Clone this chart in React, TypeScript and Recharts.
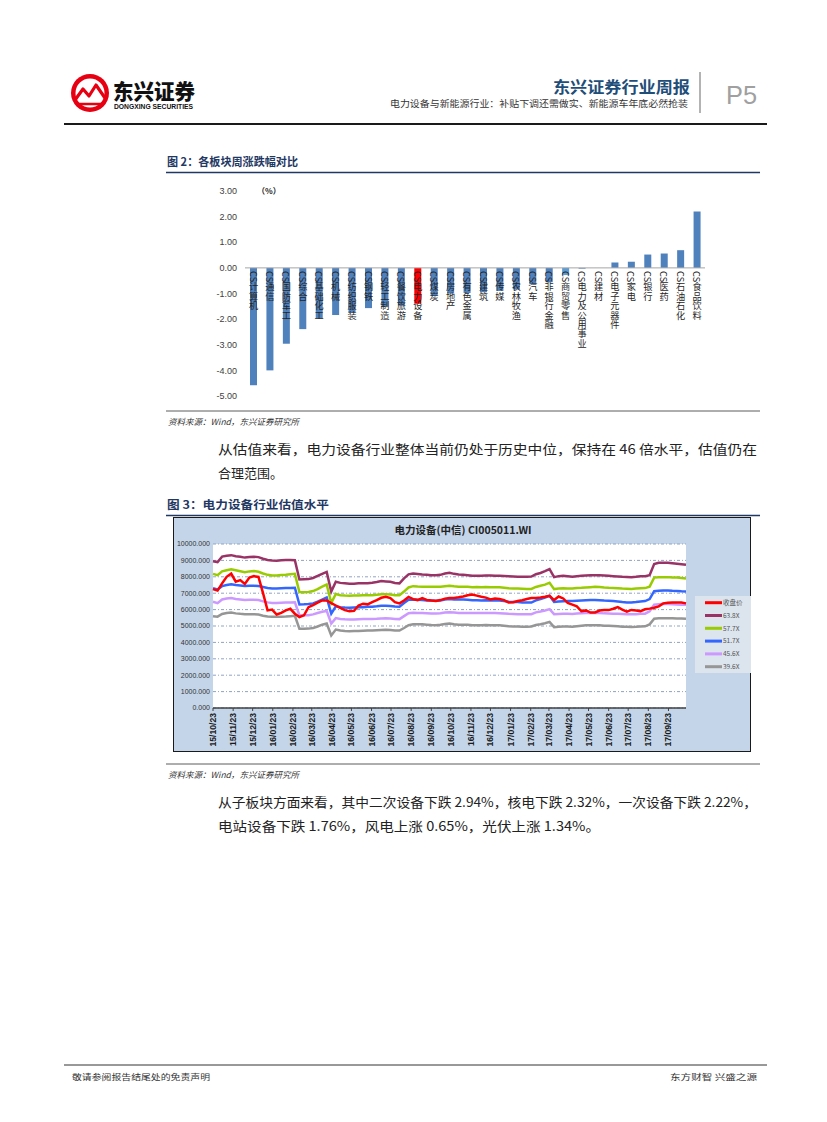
import React from 'react';
import {
  BarChart, Bar, XAxis, YAxis, ReferenceLine, LineChart, Line, CartesianGrid,
} from 'recharts';

const CJK = '"Noto Sans CJK SC", "Noto Sans", sans-serif';
const LAT = '"Liberation Sans", Arial, sans-serif';

// ---------- Figure 2 data ----------
const sectors = ['计算机', '通信', '国防军工', '综合', '基础化工', '机械', '纺织服装', '钢铁', '轻工制造', '餐饮旅游', '电力设备', '煤炭', '房地产', '有色金属', '建筑', '传媒', '农林牧渔', '汽车', '非银行金融', '商贸零售', '电力及公用事业', '建材', '电子元器件', '家电', '银行', '医药', '石油石化', '食品饮料'];
const weeklyChange = [-4.58, -4.0, -2.96, -2.39, -1.97, -1.84, -1.75, -1.57, -1.52, -1.47, -1.4, -1.1, -1.0, -0.98, -0.95, -0.9, -0.84, -0.64, -0.56, -0.28, -0.03, 0.0, 0.21, 0.24, 0.52, 0.56, 0.69, 2.2];
const barTicks = [3, 2, 1, 0, -1, -2, -3, -4, -5];
const barRows = sectors.map((name, i) => ({ name, value: weeklyChange[i] }));

// ---------- Figure 3 data ----------
const weekDates = [
  '2015-10-23', '2015-10-30', '2015-11-06', '2015-11-13', '2015-11-20', '2015-11-27', '2015-12-04', '2015-12-11', '2015-12-18', '2015-12-25',
  '2016-01-01', '2016-01-08', '2016-01-15', '2016-01-22', '2016-01-29', '2016-02-05', '2016-02-12', '2016-02-19', '2016-02-26', '2016-03-04',
  '2016-03-11', '2016-03-18', '2016-03-25', '2016-04-01', '2016-04-08', '2016-04-15', '2016-04-22', '2016-04-29', '2016-05-06', '2016-05-13',
  '2016-05-20', '2016-05-27', '2016-06-03', '2016-06-10', '2016-06-17', '2016-06-24', '2016-07-01', '2016-07-08', '2016-07-15', '2016-07-22',
  '2016-07-29', '2016-08-05', '2016-08-12', '2016-08-19', '2016-08-26', '2016-09-02', '2016-09-09', '2016-09-16', '2016-09-23', '2016-09-30',
  '2016-10-07', '2016-10-14', '2016-10-21', '2016-10-28', '2016-11-04', '2016-11-11', '2016-11-18', '2016-11-25', '2016-12-02', '2016-12-09',
  '2016-12-16', '2016-12-23', '2016-12-30', '2017-01-06', '2017-01-13', '2017-01-20', '2017-01-27', '2017-02-03', '2017-02-10', '2017-02-17',
  '2017-02-24', '2017-03-03', '2017-03-10', '2017-03-17', '2017-03-24', '2017-03-31', '2017-04-07', '2017-04-14', '2017-04-21', '2017-04-28',
  '2017-05-05', '2017-05-12', '2017-05-19', '2017-05-26', '2017-06-02', '2017-06-09', '2017-06-16', '2017-06-23', '2017-06-30', '2017-07-07',
  '2017-07-14', '2017-07-21', '2017-07-28', '2017-08-04', '2017-08-11', '2017-08-18', '2017-08-25', '2017-09-01', '2017-09-08', '2017-09-15',
  '2017-09-22', '2017-09-29', '2017-10-06', '2017-10-13', '2017-10-20',
];
const closePrice = [
  7250, 7160, 7600, 8000, 8200, 7700, 7800, 7560, 7950, 8040,
  7990, 7000, 5950, 6000, 5700, 5800, 5950, 6050, 5750, 5550,
  5650, 6150, 6270, 6420, 6560, 6560, 6400, 6250, 6100, 5970,
  5900, 5930, 6250, 6360, 6320, 6450, 6580, 6720, 6780, 6700,
  6450, 6380, 6550, 6770, 6640, 6580, 6700, 6590, 6550, 6520,
  6580, 6670, 6700, 6710, 6750, 6800, 6870, 6920, 6850, 6780,
  6730, 6620, 6670, 6650, 6580, 6430, 6450, 6520, 6570, 6650,
  6700, 6710, 6740, 6780, 6840, 6580, 6800, 6680, 6400, 6300,
  6200, 5900, 5950, 5820, 5830, 5940, 5970, 5970, 6050, 6150,
  6000, 5870, 5980, 5950, 5900, 6020, 6060, 6110, 6200, 6380,
  6420, 6430, 6430, 6430, 6380,
];
const pe63 = [
  8950, 8900, 9230, 9280, 9320, 9250, 9220, 9170, 9200, 9220,
  9200, 9100, 9030, 8990, 8980, 9010, 9020, 9020, 9010, 7840,
  7850, 7860, 7930, 8050, 8180, 8300, 7100, 7700, 7630, 7600,
  7570, 7580, 7600, 7610, 7610, 7640, 7680, 7740, 7720, 7700,
  7620, 7600, 7900, 8150, 8200, 8170, 8140, 8120, 8100, 8100,
  8120, 8200, 8250, 8180, 8140, 8130, 8100, 8060, 8070, 8060,
  8080, 8080, 8070, 8060, 8050, 8040, 8020, 8000, 8000, 8000,
  8010, 8160, 8230, 8340, 8470, 7980, 8040, 8060, 8040, 8000,
  8040, 8060, 8080, 8100, 8100, 8090, 8080, 8060, 8040, 8020,
  8000, 7990, 7980, 8000, 8040, 8040, 8100, 8780, 8850, 8860,
  8850, 8820, 8790, 8760, 8730,
];
const pe57 = [
  8180, 8100, 8330, 8400, 8460, 8400, 8340, 8280, 8330, 8350,
  8310, 8200, 8120, 8080, 8080, 8110, 8130, 8160, 8180, 7070,
  7060, 7070, 7130, 7250, 7400, 7530, 6400, 6950, 6880, 6860,
  6850, 6860, 6860, 6870, 6880, 6880, 6900, 6940, 6940, 6920,
  6880, 6870, 7100, 7350, 7430, 7410, 7400, 7390, 7390, 7390,
  7400, 7430, 7450, 7420, 7400, 7390, 7390, 7370, 7380, 7370,
  7380, 7370, 7370, 7360, 7330, 7300, 7290, 7280, 7270, 7260,
  7260, 7380, 7450, 7520, 7640, 7250, 7280, 7300, 7290, 7280,
  7320, 7330, 7350, 7370, 7390, 7380, 7350, 7330, 7320, 7300,
  7280, 7270, 7260, 7280, 7300, 7310, 7400, 7950, 7970, 7980,
  7980, 7960, 7950, 7930, 7900,
];
const pe51 = [
  7300, 7230, 7430, 7500, 7550, 7500, 7470, 7440, 7450, 7450,
  7440, 7380, 7320, 7290, 7290, 7300, 7310, 7320, 7330, 6310,
  6320, 6340, 6380, 6480, 6610, 6740, 5750, 6200, 6150, 6130,
  6120, 6130, 6140, 6150, 6170, 6180, 6200, 6230, 6230, 6220,
  6190, 6180, 6400, 6600, 6620, 6600, 6580, 6560, 6550, 6540,
  6560, 6620, 6640, 6620, 6610, 6610, 6600, 6570, 6570, 6560,
  6570, 6560, 6560, 6550, 6520, 6480, 6470, 6460, 6440, 6430,
  6430, 6560, 6640, 6740, 6840, 6470, 6490, 6510, 6520, 6520,
  6540, 6560, 6570, 6580, 6590, 6570, 6550, 6540, 6530, 6500,
  6460, 6440, 6430, 6460, 6500, 6520, 6640, 7120, 7150, 7170,
  7170, 7150, 7140, 7120, 7110,
];
const pe45 = [
  6480, 6390, 6620, 6670, 6700, 6650, 6620, 6590, 6600, 6600,
  6580, 6500, 6440, 6410, 6410, 6420, 6430, 6440, 6450, 5660,
  5650, 5660, 5710, 5790, 5870, 5920, 5150, 5480, 5430, 5410,
  5400, 5400, 5410, 5420, 5420, 5430, 5440, 5460, 5470, 5460,
  5430, 5420, 5600, 5780, 5810, 5800, 5790, 5780, 5760, 5760,
  5780, 5820, 5840, 5820, 5800, 5800, 5790, 5800, 5800, 5800,
  5800, 5800, 5790, 5780, 5760, 5740, 5730, 5720, 5720, 5710,
  5720, 5830, 5880, 5950, 6030, 5720, 5730, 5740, 5740, 5730,
  5760, 5780, 5790, 5800, 5800, 5790, 5770, 5760, 5750, 5740,
  5730, 5720, 5710, 5720, 5740, 5750, 5900, 6300, 6330, 6350,
  6340, 6330, 6310, 6300, 6290,
];
const pe39 = [
  5600, 5570, 5730, 5790, 5820, 5770, 5740, 5720, 5720, 5720,
  5700, 5630, 5580, 5560, 5560, 5570, 5580, 5600, 5620, 4830,
  4830, 4840, 4880, 4970, 5080, 5150, 4420, 4780, 4720, 4690,
  4680, 4690, 4700, 4710, 4720, 4720, 4740, 4760, 4770, 4760,
  4730, 4720, 4880, 5050, 5100, 5100, 5100, 5080, 5060, 5050,
  5070, 5120, 5150, 5110, 5080, 5070, 5070, 5050, 5050, 5050,
  5060, 5050, 5050, 5040, 5020, 4990, 4970, 4970, 4960, 4960,
  4970, 5060, 5110, 5170, 5250, 4930, 4950, 4970, 4970, 4960,
  4990, 5020, 5040, 5050, 5050, 5040, 5020, 5010, 5000, 4980,
  4960, 4950, 4940, 4950, 4970, 4980, 5100, 5440, 5470, 5480,
  5480, 5470, 5460, 5450, 5440,
];
const xTickDates = ['2015-10-23', '2015-11-23', '2015-12-23', '2016-01-23', '2016-02-23', '2016-03-23', '2016-04-23', '2016-05-23', '2016-06-23', '2016-07-23', '2016-08-23', '2016-09-23', '2016-10-23', '2016-11-23', '2016-12-23', '2017-01-23', '2017-02-23', '2017-03-23', '2017-04-23', '2017-05-23', '2017-06-23', '2017-07-23', '2017-08-23', '2017-09-23'];
const yTicksLine = [0, 1000, 2000, 3000, 4000, 5000, 6000, 7000, 8000, 9000, 10000];

const lineRows = weekDates.map((d, i) => ({
  t: Date.parse(d),
  close: closePrice[i],
  pe63: pe63[i],
  pe57: pe57[i],
  pe51: pe51[i],
  pe45: pe45[i],
  pe39: pe39[i],
}));

const lineSeries = [
  { key: 'close', name: '收盘价', color: '#FF0000' },
  { key: 'pe63', name: '63.8X', color: '#993366' },
  { key: 'pe57', name: '57.7X', color: '#99CC00' },
  { key: 'pe51', name: '51.7X', color: '#3366FF' },
  { key: 'pe45', name: '45.6X', color: '#CC99FF' },
  { key: 'pe39', name: '39.6X', color: '#969696' },
];

const barColor = (name: string) =>
  name === '电力设备' ? '#FF0000' : name === '商贸零售' ? '#5B9BD5' : '#4F81BD';

function SectorBar(props: any) {
  const { x, y, width, height, payload } = props;
  if (x == null || y == null) return null;
  const h = Number(height) || 0;
  const v = payload?.value ?? 0;
  const zeroY = v < 0 && h > 0 ? y : y + h;
  const top = Math.min(y, y + h);
  const cx = x + width / 2;
  const name: string = payload?.name ?? '';
  return (
    <g>
      <rect x={x} y={top} width={width} height={Math.abs(h)} fill={barColor(name)} />
      <text
        x={cx}
        y={zeroY + 3}
        fontSize={9.2}
        fontFamily={CJK}
        fill="#262626"
        style={{ writingMode: 'vertical-rl', textOrientation: 'mixed' } as any}
        letterSpacing={0.2}
      >
        {'CS' + name}
      </text>
    </g>
  );
}

const pad = (n: number) => (n < 10 ? '0' + n : String(n));
function DateTick(props: any) {
  const { x, y, payload } = props;
  const d = new Date(payload.value);
  const s = `${String(d.getUTCFullYear()).slice(2)}/${pad(d.getUTCMonth() + 1)}/${pad(d.getUTCDate())}`;
  return (
    <text transform={`translate(${x},${y}) rotate(-90)`} textAnchor="end" dominantBaseline="central" fontSize={8.6} fontWeight="bold" fontFamily={LAT} fill="#1a1a1a">{s}</text>
  );
}

export default function App() {
  const navy = '#1F3864';
  return (
    <div style={{ position: 'absolute', left: 0, top: 0, width: 827, height: 1122, background: '#fff', overflow: 'hidden' }}>
      {/* Figure 2 */}
      <div style={{ position: 'absolute', left: 160, top: 180 }}>
        <BarChart width={560} height={230} data={barRows} margin={{ top: 11, right: 15, bottom: 14, left: 0 }} barSize={7}>
          <XAxis dataKey="name" hide />
          <YAxis width={85} domain={[-5, 3]} ticks={barTicks} interval={0} tickFormatter={(v: number) => v.toFixed(2)} axisLine={false} tickLine={false} tick={{ fontSize: 9, fill: '#404040', fontFamily: LAT }} />
          <ReferenceLine y={0} stroke="#A6A6A6" strokeWidth={1} />
          <Bar dataKey="value" isAnimationActive={false} shape={SectorBar} />
        </BarChart>
      </div>

      {/* Figure 3 frame */}
      <div style={{ position: 'absolute', left: 173, top: 517, width: 578, height: 235, background: '#C4D5E9', border: '1.5px solid #1a1a1a', boxSizing: 'border-box' }} />
      <div style={{ position: 'absolute', left: 173, top: 517 }}>
        <LineChart width={578} height={235} data={lineRows} margin={{ top: 27, right: 65, bottom: 2, left: 0 }}>
          <CartesianGrid vertical={false} fill="#FFFFFF" stroke="#8FA4C2" strokeDasharray="3 2 1 2" />
          <XAxis dataKey="t" type="number" domain={[lineRows[0].t, lineRows[lineRows.length - 1].t]} ticks={xTickDates.map((d) => Date.parse(d))} interval={0} height={42} tick={<DateTick />} tickSize={3} tickMargin={2} axisLine={{ stroke: '#404040', strokeWidth: 1.5 }} tickLine={{ stroke: '#404040' }} />
          <YAxis width={40} domain={[0, 10000]} ticks={yTicksLine} interval={0} tickFormatter={(v: number) => v.toFixed(3)} axisLine={false} tickLine={false} tickSize={3} tickMargin={0} tick={{ fontSize: 7, fill: '#333', fontFamily: LAT }} />
          {lineSeries.slice(1).map((s) => (
            <Line key={s.key} dataKey={s.key} name={s.name} stroke={s.color} strokeWidth={2.5} dot={false} isAnimationActive={false} type="linear" />
          ))}
          <Line dataKey={lineSeries[0].key} name={lineSeries[0].name} stroke={lineSeries[0].color} strokeWidth={2.5} dot={false} isAnimationActive={false} type="linear" />
        </LineChart>
      </div>

      {/* page overlay */}
      <svg width={827} height={1122} style={{ position: 'absolute', left: 0, top: 0 }} fontFamily={CJK}>
        {/* header */}
        <circle cx={90} cy={93} r={19} fill="#E60012" />
        <circle cx={90} cy={93} r={14.5} fill="#fff" />
        <path d="M75,100 L83,89 L89,96 L96,85 L105,98" stroke="#E60012" strokeWidth={3.2} fill="none" strokeLinejoin="round" />
        <path d="M77,104 L103,104" stroke="#E60012" strokeWidth={2.5} />
        <text x={113} y={99} fontSize={21} fontWeight={900} fill="#111" textLength={82} lengthAdjust="spacingAndGlyphs">东兴证券</text>
        <text x={114} y={109} fontSize={7} fontWeight={700} fontFamily={LAT} fill="#111" textLength={79} lengthAdjust="spacingAndGlyphs">DONGXING SECURITIES</text>
        <text x={553} y={93} fontSize={16} fontWeight={700} fill="#1F4E79" textLength={137} lengthAdjust="spacingAndGlyphs">东兴证券行业周报</text>
        <text x={390} y={107} fontSize={9} fill="#333" textLength={298} lengthAdjust="spacingAndGlyphs">电力设备与新能源行业：补贴下调还需做实、新能源车年底必然抢装</text>
        <line x1={700} y1={72} x2={700} y2={113} stroke="#9A9A9A" strokeWidth={1.5} />
        <text x={726} y={104} fontSize={26} fill="#A0A0A0" fontFamily={LAT} textLength={31} lengthAdjust="spacingAndGlyphs">P5</text>
        <line x1={64} y1={124} x2={767} y2={124} stroke="#1a1a1a" strokeWidth={2} />

        {/* figure 2 */}
        <text x={167} y={166} fontSize={11.5} fontWeight={700} fill={navy} textLength={131} lengthAdjust="spacingAndGlyphs">图 2：各板块周涨跌幅对比</text>
        <line x1={166} y1={172.5} x2={760} y2={172.5} stroke={navy} strokeWidth={1.5} />
        <text x={257} y={194} fontSize={8} fontWeight={700} fill="#262626">（%）</text>
        <line x1={166} y1={411} x2={760} y2={411} stroke="#333" strokeWidth={0.8} />
        <text x={168} y={425} fontSize={8.5} fontStyle="italic" fill="#333" textLength={131} lengthAdjust="spacingAndGlyphs">资料来源：Wind，东兴证券研究所</text>

        <text x={218} y={454} fontSize={13} fill="#222" textLength={539} lengthAdjust="spacingAndGlyphs">从估值来看，电力设备行业整体当前仍处于历史中位，保持在 46 倍水平，估值仍在</text>
        <text x={218} y={478} fontSize={13} fill="#222" textLength={65} lengthAdjust="spacingAndGlyphs">合理范围。</text>

        {/* figure 3 */}
        <text x={167} y={509} fontSize={11.5} fontWeight={700} fill={navy} textLength={162} lengthAdjust="spacingAndGlyphs">图 3：电力设备行业估值水平</text>
        <line x1={166} y1={515.5} x2={760} y2={515.5} stroke={navy} strokeWidth={1.5} />
        <text x={463} y={534} fontSize={10.5} fontWeight={700} fill="#222" textAnchor="middle" textLength={137} lengthAdjust="spacingAndGlyphs">电力设备(中信) CI005011.WI</text>

        <rect x={695} y={596} width={56} height={77} fill="#DCE4EE" />
        {lineSeries.map((s, i) => (
          <g key={s.key}>
            <line x1={705} x2={722} y1={602.7 + i * 12.8} y2={602.7 + i * 12.8} stroke={s.color} strokeWidth={3} />
            <text x={723} y={605 + i * 12.8} fontSize={6.5} fill="#555" fontFamily={CJK}>{s.name}</text>
          </g>
        ))}

        <line x1={166} y1={764} x2={760} y2={764} stroke="#333" strokeWidth={0.8} />
        <text x={168} y={778} fontSize={8.5} fontStyle="italic" fill="#333" textLength={131} lengthAdjust="spacingAndGlyphs">资料来源：Wind，东兴证券研究所</text>

        <text x={218} y={807} fontSize={13} fill="#222" textLength={539} lengthAdjust="spacingAndGlyphs">从子板块方面来看，其中二次设备下跌 2.94%，核电下跌 2.32%，一次设备下跌 2.22%，</text>
        <text x={218} y={831} fontSize={13} fill="#222" textLength={382} lengthAdjust="spacingAndGlyphs">电站设备下跌 1.76%，风电上涨 0.65%，光伏上涨 1.34%。</text>

        {/* footer */}
        <line x1={64} y1={1065} x2={767} y2={1065} stroke="#333" strokeWidth={1} />
        <text x={72} y={1080} fontSize={8.5} fill="#333" textLength={138} lengthAdjust="spacingAndGlyphs">敬请参阅报告结尾处的免责声明</text>
        <text x={670} y={1080} fontSize={8.5} fill="#333" textLength={87} lengthAdjust="spacingAndGlyphs">东方财智 兴盛之源</text>
      </svg>
    </div>
  );
}
